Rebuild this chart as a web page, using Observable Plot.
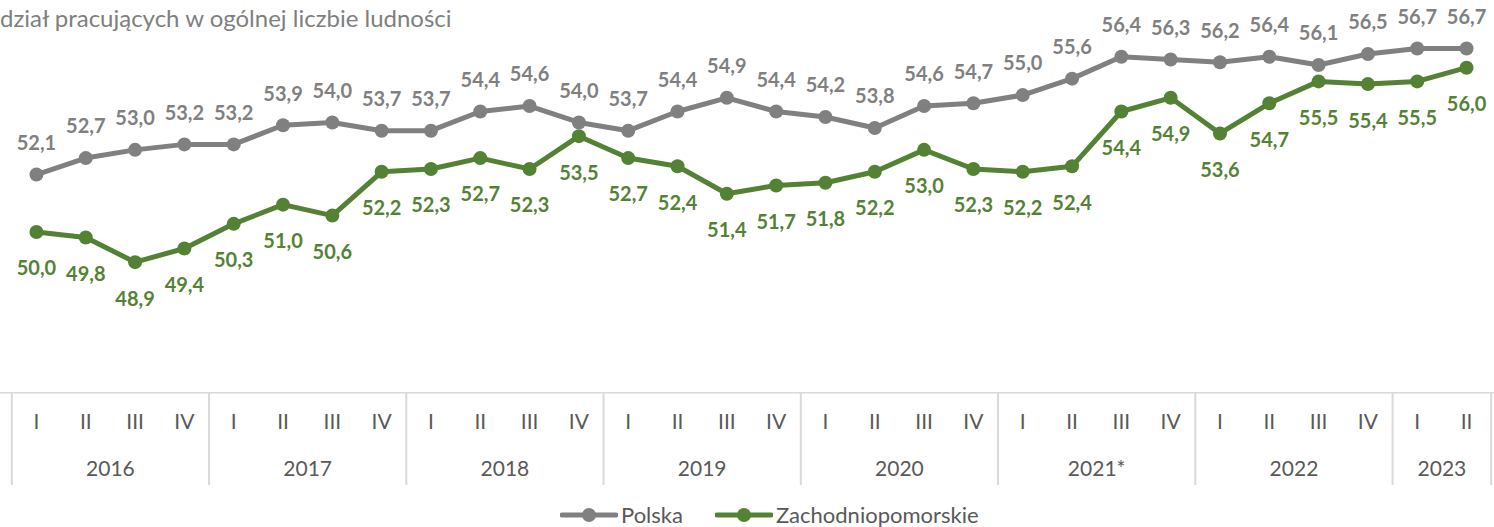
<!DOCTYPE html>
<html>
<head>
<meta charset="utf-8">
<script src="https://cdn.jsdelivr.net/npm/d3@7"></script>
<script src="https://cdn.jsdelivr.net/npm/@observablehq/plot@0.6"></script>
<style>
  html, body { margin: 0; padding: 0; background: #fff; }
  body { width: 1494px; height: 527px; overflow: hidden; font-family: Lato, "Open Sans", sans-serif; }
  #wrap { position: relative; width: 1494px; height: 527px; }
  #title { position: absolute; left: 0; top: 3px; font-size: 24px; color: #7f7f7f; line-height: 30px; white-space: nowrap; z-index: 2; }
  #legend { position: absolute; left: 560px; top: 501px; display: flex; align-items: center; font-size: 22px; color: #595959; z-index: 2; }
  #legend .item { display: flex; align-items: center; }
  #legend .item + .item { margin-left: 32px; }
  #legend svg { display: block; margin-right: 3px; }
  svg { display: block; }
</style>
</head>
<body>
<div id="wrap">
  <div id="title">dział pracujących w ogólnej liczbie ludności</div>
  <div id="charts"></div>
  <div id="legend"></div>
</div>
<script>
const quarters = ["I","II","III","IV","I","II","III","IV","I","II","III","IV","I","II","III","IV","I","II","III","IV","I","II","III","IV","I","II","III","IV","I","II"];
const years = ["2016","2017","2018","2019","2020","2021*","2022","2023"];
const quartersPerYear = [4,4,4,4,4,4,4,2];
const polska = [52.1,52.7,53.0,53.2,53.2,53.9,54.0,53.7,53.7,54.4,54.6,54.0,53.7,54.4,54.9,54.4,54.2,53.8,54.6,54.7,55.0,55.6,56.4,56.3,56.2,56.4,56.1,56.5,56.7,56.7];
const zachodnio = [50.0,49.8,48.9,49.4,50.3,51.0,50.6,52.2,52.3,52.7,52.3,53.5,52.7,52.4,51.4,51.7,51.8,52.2,53.0,52.3,52.2,52.4,54.4,54.9,53.6,54.7,55.5,55.4,55.5,56.0];
const seriesNames = ["Polska","Zachodniopomorskie"];
const colors = {"Polska": "#808080", "Zachodniopomorskie": "#548235"};

const fmt = v => v.toFixed(1).replace(".", ",");
const xScale = {domain: [-0.5, 29.5], range: [11.3, 1490.7]};

const rows = [];
polska.forEach((v, i) => rows.push({i, v, s: "Polska"}));
zachodnio.forEach((v, i) => rows.push({i, v, s: "Zachodniopomorskie"}));

const main = Plot.plot({
  width: 1494, height: 392,
  marginTop: 0, marginBottom: 0, marginLeft: 0, marginRight: 0,
  x: {...xScale, axis: null},
  y: {domain: [44, 58], range: [395.9, 12.4], axis: null},
  color: {domain: seriesNames, range: seriesNames.map(s => colors[s])},
  style: {fontFamily: "Lato, 'Open Sans', sans-serif", background: "transparent", overflow: "visible"},
  marks: [
    Plot.line(rows, {x: "i", y: "v", z: "s", stroke: "s", strokeWidth: 5, strokeLinejoin: "round"}),
    Plot.dot(rows, {x: "i", y: "v", fill: "s", r: 7, stroke: "none"}),
    Plot.text(rows.filter(d => d.s === "Polska"), {x: "i", y: "v", text: d => fmt(d.v), dy: -31, fill: colors["Polska"], fontSize: 20, fontWeight: "bold"}),
    Plot.text(rows.filter(d => d.s === "Zachodniopomorskie"), {x: "i", y: "v", text: d => fmt(d.v), dy: 37, fill: colors["Zachodniopomorskie"], fontSize: 20, fontWeight: "bold"})
  ]
});

// year boundaries and centers
const boundaries = [-0.5];
const yearCenters = [];
let start = 0;
quartersPerYear.forEach((n, k) => {
  yearCenters.push({year: years[k], x: start + (n - 1) / 2});
  start += n;
  boundaries.push(start - 0.5);
});

const table = Plot.plot({
  width: 1494, height: 112,
  marginTop: 0, marginBottom: 19, marginLeft: 0, marginRight: 0,
  x: {...xScale, axis: null},
  style: {fontFamily: "Lato, 'Open Sans', sans-serif", background: "transparent"},
  marks: [
    Plot.ruleX(boundaries, {x: d => d, stroke: "#d9d9d9", strokeWidth: 2}),
    Plot.frame({anchor: "top", stroke: "#d9d9d9", strokeWidth: 2}),
    Plot.text(quarters, {x: (d, i) => i, text: d => d, frameAnchor: "top", lineAnchor: "middle", dy: 30, fill: "#595959", fontSize: 21}),
    Plot.text(yearCenters, {x: "x", text: "year", frameAnchor: "top", lineAnchor: "middle", dy: 77, fill: "#595959", fontSize: 21})
  ]
});

const charts = document.getElementById("charts");
charts.appendChild(main);
charts.appendChild(table);

const legend = document.getElementById("legend");
seriesNames.forEach(s => {
  const item = document.createElement("div");
  item.className = "item";
  item.innerHTML = `<svg width="58" height="16"><line x1="2" y1="8" x2="56" y2="8" stroke="${colors[s]}" stroke-width="5" stroke-linecap="round"/><circle cx="29" cy="8" r="7" fill="${colors[s]}"/></svg><span>${s}</span>`;
  legend.appendChild(item);
});
</script>
</body>
</html>
